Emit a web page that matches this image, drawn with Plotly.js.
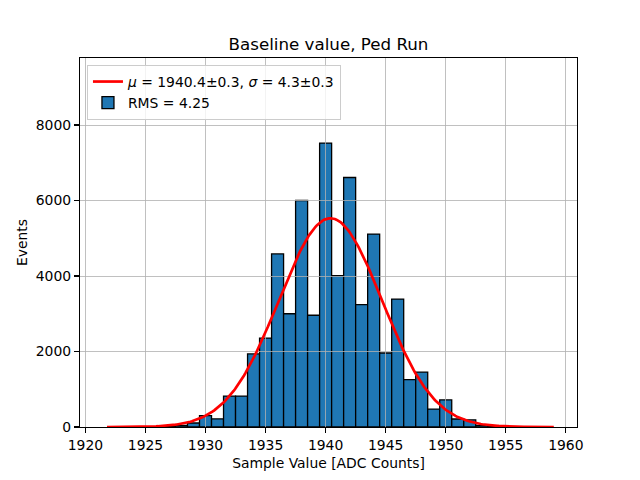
<!DOCTYPE html>
<html>
<head>
<meta charset="utf-8">
<script src="https://cdn.plot.ly/plotly-3.0.1.min.js"></script>
<style>html,body{margin:0;padding:0;background:#fff;} #chart{width:640px;height:480px;}</style>
</head>
<body>
<div id="chart"></div>
<script>
// Histogram bins (bin centres, ADC counts) and counts
const binCenters = [1927, 1928, 1929, 1930, 1931, 1932, 1933, 1934, 1935, 1936, 1937, 1938, 1939, 1940,
                    1941, 1942, 1943, 1944, 1945, 1946, 1947, 1948, 1949, 1950, 1951, 1952, 1953, 1954];
const binCounts  = [15, 45, 106, 300, 215, 820, 820, 1935, 2355, 4585, 3000, 6000, 2960, 7520,
                    4010, 6610, 3240, 5110, 1960, 3390, 1255, 1455, 476, 718, 212, 190, 45, 10];

// Gaussian fit parameters (from legend) and fit range
const fitMu = 1940.4;
const fitSigma = 4.3;
const fitAmp = 5530;
const fitRange = [1921.8, 1959.0];

const xTicks = [1920, 1925, 1930, 1935, 1940, 1945, 1950, 1955, 1960];
const yTicks = [0, 2000, 4000, 6000, 8000];

const fitLabel = '<i>μ</i> = 1940.4±0.3, <i>σ</i> = 4.3±0.3';
const histLabel = 'RMS = 4.25';

// Build fit curve from the fit model
const fitX = [], fitY = [];
const nPts = 300;
for (let i = 0; i <= nPts; i++) {
  const x = fitRange[0] + (fitRange[1] - fitRange[0]) * i / nPts;
  fitX.push(x);
  fitY.push(fitAmp * Math.exp(-0.5 * Math.pow((x - fitMu) / fitSigma, 2)));
}

const xRange = [1919.55, 1960.93];
const yRange = [0, 9775];
const font = {family: 'DejaVu Sans, sans-serif', size: 13.9, color: '#000'};

const traces = [
  {
    type: 'scatter', mode: 'lines', x: fitX, y: fitY, name: fitLabel,
    line: {color: '#ff0000', width: 2.7}, xaxis: 'x2', yaxis: 'y2', hoverinfo: 'skip'
  },
  {
    type: 'bar', x: binCenters, y: binCounts, width: 1, name: histLabel,
    marker: {color: '#1f77b4', line: {color: '#000000', width: 1.3}},
    xaxis: 'x', yaxis: 'y'
  }
];

const baseAxis = {
  showgrid: false, zeroline: false, showline: true, linecolor: '#000', linewidth: 1.1,
  mirror: true, ticks: 'outside', ticklen: 5, tickwidth: 1.1, tickcolor: '#000',
  tickfont: font, fixedrange: true
};

const layout = {
  width: 640, height: 480,
  margin: {l: 80, r: 63, t: 58, b: 53},
  paper_bgcolor: '#fff', plot_bgcolor: 'rgba(0,0,0,0)',
  font: font,
  showlegend: true,
  bargap: 0,
  title: {
    text: 'Baseline value, Ped Run',
    font: {family: 'DejaVu Sans, sans-serif', size: 16.7, color: '#000'},
    x: 0.5, xref: 'paper', xanchor: 'center',
    y: 1 - 44 / 480, yref: 'container', yanchor: 'middle'
  },
  xaxis: Object.assign({}, baseAxis, {
    range: xRange, tickmode: 'array', tickvals: xTicks, ticktext: xTicks.map(String),
    domain: [0, 1], anchor: 'y',
    title: {text: 'Sample Value [ADC Counts]', font: font, standoff: 6}
  }),
  yaxis: Object.assign({}, baseAxis, {
    range: yRange, tickmode: 'array', tickvals: yTicks, ticktext: yTicks.map(String),
    domain: [0, 1], anchor: 'x',
    title: {text: 'Events', font: font, standoff: 4}
  }),
  xaxis2: {
    range: xRange, domain: [0, 1], anchor: 'y2', tickmode: 'array', tickvals: xTicks,
    showgrid: true, gridcolor: '#b0b0b0', gridwidth: 0.8, zeroline: false,
    showticklabels: false, ticks: '', showline: false, fixedrange: true
  },
  yaxis2: {
    range: yRange, domain: [0, 1], anchor: 'x2', tickmode: 'array', tickvals: yTicks,
    showgrid: true, gridcolor: '#b0b0b0', gridwidth: 0.8, zeroline: false,
    showticklabels: false, ticks: '', showline: false, fixedrange: true
  },
  legend: {
    x: 0.014, y: 0.981, xanchor: 'left', yanchor: 'top',
    bgcolor: 'rgba(255,255,255,0.8)', bordercolor: '#cccccc', borderwidth: 1,
    font: font, traceorder: 'normal', itemwidth: 30, tracegroupgap: 2
  }
};

Plotly.newPlot('chart', traces, layout, {staticPlot: true, displayModeBar: false});
</script>
</body>
</html>
